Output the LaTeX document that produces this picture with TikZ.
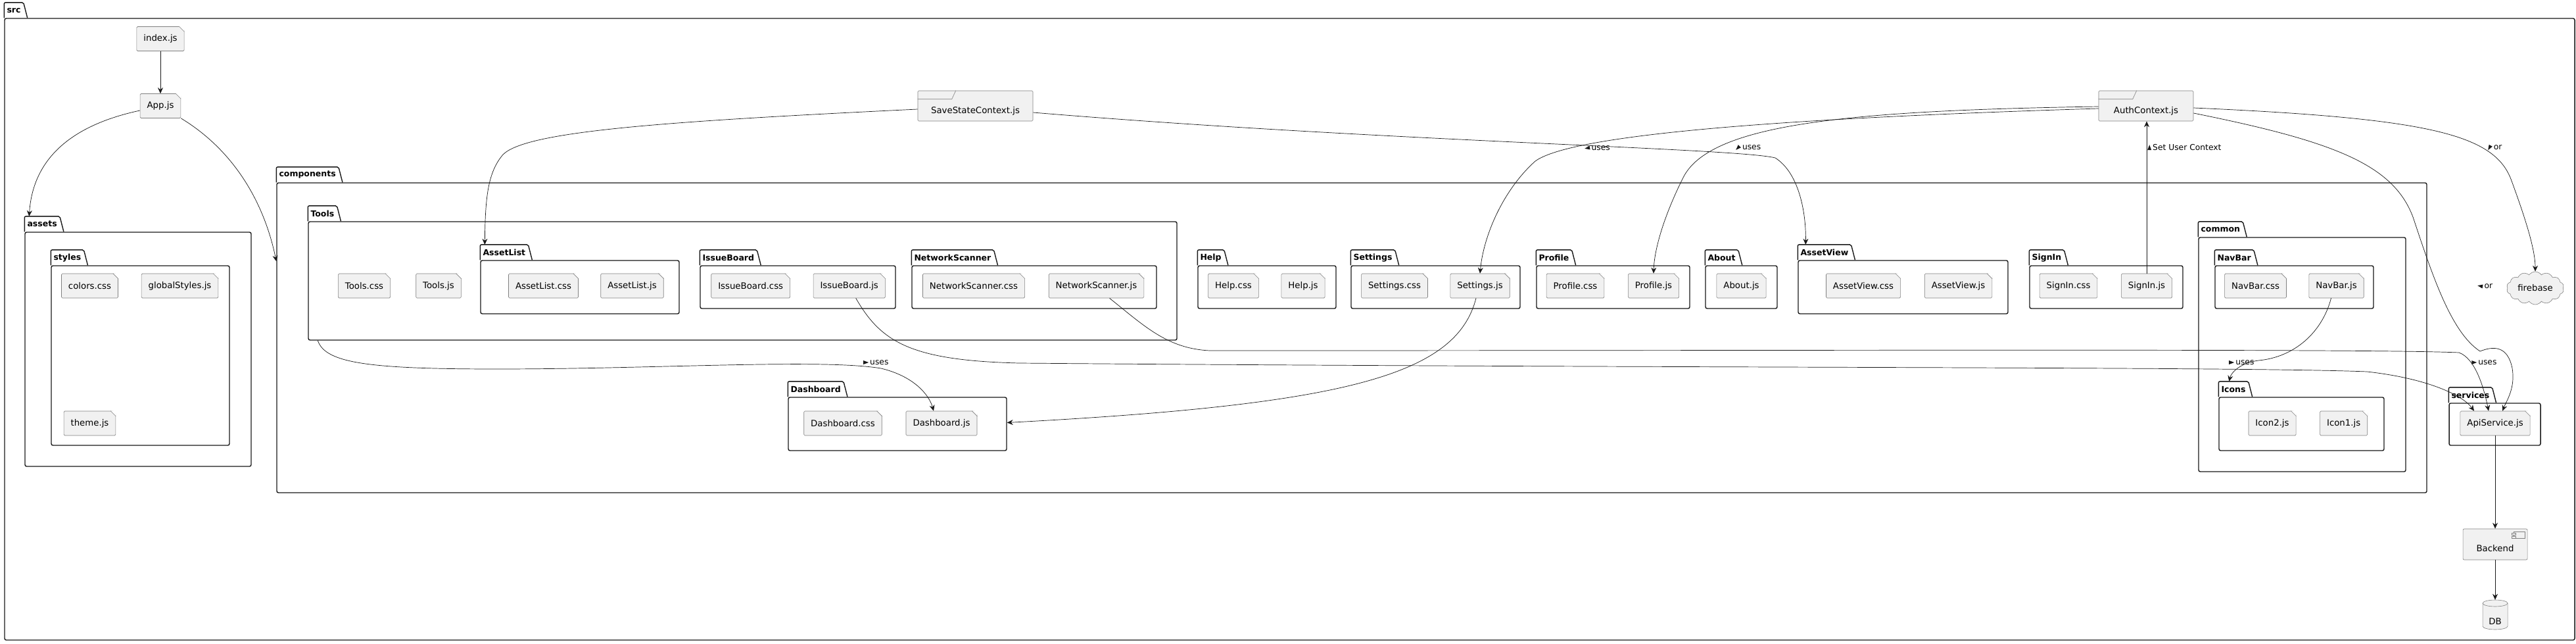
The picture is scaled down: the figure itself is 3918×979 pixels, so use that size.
\documentclass[tikz,border=0pt]{standalone}
\usepackage{fontspec}
\setmainfont{DejaVu Sans}
\usetikzlibrary{arrows.meta,fit,positioning,shapes.geometric,shapes.symbols}

\definecolor{filefill}{HTML}{F1F1F1}
\definecolor{fileline}{HTML}{808080}
\definecolor{ink}{HTML}{181818}

\newcommand\filefont{\fontsize{13.3}{15}\selectfont}
\newcommand\lblfont{\fontsize{12.3}{14}\selectfont}
\newcommand\pkgfont{\bfseries\fontsize{12.5}{14}\selectfont}

% little direction triangle in front of an edge label
\newcommand\tri[1]{\tikz[baseline=-0.5ex]\fill[ink,rotate=#1] (0:5pt) -- (135:4.2pt) -- (225:4.2pt) -- cycle;}

% package: name, top left corner, bottom right corner, title
\newcommand\pkg[4]{%
  \node[pkgbox, fit={#2 #3}] (#1) {};
  \node[pkgtitle] (#1-t) at (#1.north west) {#4};
  \draw[pkgtab] (#1.north west) |- (#1-t.north east) -- ([xshift=6pt]#1-t.south east);
}

\tikzset{
  pkgbox/.style={draw=ink, line width=1.4pt, rounded corners=2.5pt, inner sep=0pt},
  pkgtitle/.style={anchor=south west, font=\pkgfont, inner xsep=4pt, inner ysep=0pt, minimum height=23pt},
  pkgtab/.style={draw=ink, line width=1.4pt, rounded corners=2pt},
  file/.style={draw=fileline, fill=filefill, line width=0.6pt, rounded corners=1.5pt,
    minimum height=37pt, inner xsep=10.5pt, font=\filefont},
  ctx/.style={draw=fileline, fill=filefill, line width=0.6pt, rounded corners=1.5pt,
    minimum width=#1, minimum height=46pt, inner ysep=0pt, text height=25pt, text depth=3pt, font=\filefont},
  comp/.style={draw=fileline, fill=filefill, line width=0.6pt, rounded corners=2pt,
    minimum width=98pt, minimum height=47pt, inner ysep=0pt, text height=24pt, text depth=3pt, font=\filefont},
  db/.style={minimum width=38pt, minimum height=45pt, inner sep=0pt, text height=31pt, text depth=2pt, font=\filefont},
  cloudy/.style={cloud, cloud puffs=14, cloud puff arc=110, aspect=1.9, draw=fileline, fill=filefill,
    line width=0.6pt, minimum width=87pt, minimum height=50pt, inner sep=0pt, font=\filefont},
  link/.style={draw=ink, line width=0.7pt, -{Stealth[length=9pt,width=8pt,inset=3pt]}},
  lbl/.style={anchor=west, font=\lblfont, inner sep=0pt}
}

\begin{document}
\begin{tikzpicture}[x=1pt, y=-1pt, on grid]
  \useasboundingbox (0,0) rectangle (3918,979);

  % packages
  \pkg{src}{(7,28)}{(3916,973)}{src}
  \pkg{assets}{(38,353)}{(382,709)}{assets}
  \pkg{styles}{(78,404)}{(349,677)}{styles}
  \pkg{components}{(421,278)}{(3691,749)}{components}
  \pkg{tools}{(469,337)}{(1790,517)}{Tools}
  \pkg{assetlist}{(731,396)}{(1033,477)}{AssetList}
  \pkg{issueboard}{(1065,404)}{(1362,469)}{IssueBoard}
  \pkg{networkscanner}{(1387,404)}{(1759,469)}{NetworkScanner}
  \pkg{help}{(1822,404)}{(2032,469)}{Help}
  \pkg{settings}{(2055,404)}{(2312,469)}{Settings}
  \pkg{profile}{(2337,404)}{(2570,469)}{Profile}
  \pkg{about}{(2594,404)}{(2703,469)}{About}
  \pkg{assetview}{(2735,396)}{(3054,477)}{AssetView}
  \pkg{signin}{(3087,404)}{(3320,469)}{SignIn}
  \pkg{common}{(3344,361)}{(3659,717)}{common}
  \pkg{navbar}{(3369,404)}{(3610,469)}{NavBar}
  \pkg{icons}{(3375,604)}{(3626,685)}{Icons}
  \pkg{dashboard}{(1199,604)}{(1531,685)}{Dashboard}
  \pkg{services}{(3725,613)}{(3864,677)}{services}

  % files
  \node[file] (indexjs) at (244,59) {index.js};
  \node[file] (appjs) [below=102pt of indexjs] {App.js};
  \node[file] (colorscss) at (136.5,434.5) {colors.css};
  \node[file] (globalstylesjs) [right=137pt of colorscss] {globalStyles.js};
  \node[file] (themejs) [below=209pt of colorscss] {theme.js};
  \node[file] (toolscss) at (554,434.5) {Tools.css};
  \node[file] (toolsjs) [right=113pt of toolscss] {Tools.js};
  \node[file] (assetlistcss) at (826.5,434.5) {AssetList.css};
  \node[file] (assetlistjs) [right=135pt of assetlistcss] {AssetList.js};
  \node[file] (issueboardcss) at (1141.7,434.5) {IssueBoard.css};
  \node[file] (issueboardjs) [right=150pt of issueboardcss] {IssueBoard.js};
  \node[file] (networkscannercss) at (1481,434.5) {NetworkScanner.css};
  \node[file] (networkscannerjs) [right=186.5pt of networkscannercss] {NetworkScanner.js};
  \node[file] (helpcss) at (1876,434.5) {Help.css};
  \node[file] (helpjs) [right=106pt of helpcss] {Help.js};
  \node[file] (settingscss) at (2121,434.5) {Settings.css};
  \node[file] (settingsjs) [right=130pt of settingscss] {Settings.js};
  \node[file] (profilecss) at (2396,434.5) {Profile.css};
  \node[file] (profilejs) [right=119pt of profilecss] {Profile.js};
  \node[file] (aboutjs) at (2648.5,434.5) {About.js};
  \node[file] (assetviewcss) at (2834,434.5) {AssetView.css};
  \node[file] (assetviewjs) [right=144.5pt of assetviewcss] {AssetView.js};
  \node[file] (signincss) at (3146,434.5) {SignIn.css};
  \node[file] (signinjs) [right=119pt of signincss] {SignIn.js};
  \node[file] (navbarcss) at (3430.5,434.5) {NavBar.css};
  \node[file] (navbarjs) [right=123pt of navbarcss] {NavBar.js};
  \node[file] (icon2js) at (3456,643.5) {Icon2.js};
  \node[file] (icon1js) [right=108.6pt of icon2js] {Icon1.js};
  \node[file] (dashboardcss) at (1282,643.5) {Dashboard.css};
  \node[file] (dashboardjs) [right=150pt of dashboardcss] {Dashboard.js};
  \node[file] (apiservicejs) at (3795,643.5) {ApiService.js};

  % folded corners
  \foreach \f in {indexjs,appjs,colorscss,globalstylesjs,themejs,toolscss,toolsjs,
      assetlistcss,assetlistjs,issueboardcss,issueboardjs,networkscannercss,networkscannerjs,
      helpcss,helpjs,settingscss,settingsjs,profilecss,profilejs,aboutjs,assetviewcss,
      assetviewjs,signincss,signinjs,navbarcss,navbarjs,icon2js,icon1js,dashboardcss,
      dashboardjs,apiservicejs} {
    \fill[white] ([xshift=-8pt]\f.north east) -- ([xshift=1pt,yshift=1pt]\f.north east)
      -- ([yshift=-8pt]\f.north east) -- cycle;
    \draw[fileline, line width=0.6pt] ([xshift=-8pt]\f.north east) -- ([yshift=-8pt]\f.north east);
  }

  % contexts and outside parts
  \node[ctx=175pt] (savestate) at (1483.5,161) {SaveStateContext.js};
  \node[ctx=144pt] (authcontext) [right=1780.5pt of savestate] {AuthContext.js};
  \foreach \c in {savestate,authcontext}
    \draw[fileline, line width=0.6pt] ([yshift=-13pt]\c.north west) -- ++(52,0) -- ([xshift=58pt]\c.north west);
  \node[cloudy] (firebase) at (3856,438) {firebase};
  \node[comp] (backend) [below=184pt of apiservicejs] {Backend};
  \draw[fileline, line width=0.6pt, fill=filefill] ([xshift=-21pt,yshift=-5pt]backend.north east) rectangle ++(17,10);
  \draw[fileline, line width=0.6pt, fill=filefill] ([xshift=-24pt,yshift=-7pt]backend.north east) rectangle ++(6,2.5);
  \draw[fileline, line width=0.6pt, fill=filefill] ([xshift=-24pt,yshift=-12pt]backend.north east) rectangle ++(6,2.5);
  % database drum
  \path (backend) ++(0,107) coordinate (dbc);
  \draw[fileline, line width=0.6pt, fill=filefill] ([shift={(-19pt,17.5pt)}]dbc)
    -- ([shift={(-19pt,-17.5pt)}]dbc) arc[start angle=180, end angle=360, x radius=19pt, y radius=5pt]
    -- ([shift={(19pt,17.5pt)}]dbc) arc[start angle=0, end angle=180, x radius=19pt, y radius=5pt] -- cycle;
  \draw[fileline, line width=0.6pt] ([shift={(-19pt,17.5pt)}]dbc) arc[start angle=180, end angle=360, x radius=19pt, y radius=5pt];
  \node[db] (db) at (dbc) {DB};

  % connectors
  \draw[link] (indexjs) -- (appjs);
  \draw[link] ([yshift=-7pt]appjs.west) .. controls (110,190) and (50,240) .. ([xshift=7pt]assets-t.north west);
  \draw[link] (appjs.south east) .. controls (350,225) and (400,300) .. ([yshift=-120pt]components.north west);
  \draw[link] ([yshift=-5pt]savestate.west) .. controls (1000,185) and (800,200) .. (765,235)
    .. controls (742,262) and (738,300) .. ([xshift=7pt]assetlist-t.north west);
  \draw[link] ([yshift=-10pt]savestate.east) .. controls (2100,215) and (2640,225) .. (2700,240)
    .. controls (2735,262) and (2747,320) .. ([xshift=12pt]assetview-t.north west);
  \draw[link] ([yshift=-4pt]authcontext.west) .. controls (2700,180) and (2390,205) .. (2335,245)
    .. controls (2285,290) and (2256,360) .. (settingsjs.north);
  \draw[link] ([yshift=-1pt]authcontext.west) .. controls (2800,168) and (2600,190) .. (2560,270)
    .. controls (2530,330) and (2516,380) .. (profilejs.north);
  \draw[link] (signinjs.north) -- (signinjs.north |- authcontext.south);
  \draw[link] ([yshift=-3pt]authcontext.east) .. controls (3700,180) and (3795,205) .. (3820,275)
    .. controls (3842,335) and (3856,380) .. (firebase.north);
  \draw[link] ([yshift=-11pt]authcontext.east) .. controls (3550,215) and (3640,250) .. (3670,330)
    .. controls (3700,420) and (3728,505) .. (3772,534)
    .. controls (3792,526) and (3814,525) .. (3821,560)
    .. controls (3826,590) and (3812,610) .. ([xshift=11pt]apiservicejs.north);
  \draw[link] ([xshift=20pt]networkscannerjs.south) .. controls (1740,495) and (1775,530) .. (1840,533)
    .. controls (2800,533) and (3600,530) .. (3740,536)
    .. controls (3765,545) and (3778,590) .. ([xshift=-10pt]apiservicejs.north);
  \draw[link] ([xshift=10pt]issueboardjs.south) .. controls (1340,520) and (1385,548) .. (1550,552)
    .. controls (2500,560) and (3400,557) .. (3600,565)
    .. controls (3690,575) and (3745,600) .. ([xshift=-32pt]apiservicejs.north);
  \draw[link] ([xshift=-8pt]navbarjs.south) .. controls (3532,505) and (3490,543) .. (3435,548)
    .. controls (3405,552) and (3393,568) .. ([xshift=16pt]icons-t.north west);
  \draw[link] ([xshift=-6pt]settingsjs.south) .. controls (2215,570) and (2050,615) .. ([yshift=2pt]dashboard.east);
  \draw[link] ([xshift=15pt]tools.south west) .. controls (495,552) and (560,561) .. (756,561)
    .. controls (1000,561) and (1250,545) .. (1340,560)
    .. controls (1390,572) and (1413,600) .. ([xshift=-12pt]dashboardjs.north);
  \draw[link] (apiservicejs) -- (backend);
  \draw[link] (backend) -- (db);

  % edge labels
  \node[lbl] (lbl-dash) at (1313,551) {\tri{0}\,uses};
  \node[lbl] (lbl-settings) at (2410,225) {\tri{190}\,uses};
  \node[lbl] (lbl-profile) at (2640,224) {\tri{225}\,uses};
  \node[lbl] (lbl-signin) at (3266,224) {\tri{90}\,Set User Context};
  \node[lbl] (lbl-fire) at (3784,224) {\tri{240}\,or};
  \node[lbl] (lbl-or) at (3768,435) {\tri{170}\,or};
  \node[lbl] (lbl-icons) at (3390,551) {\tri{0}\,uses};
  \node[lbl] (lbl-api) at (3759,551) {\tri{0}\,uses};
\end{tikzpicture}
\end{document}
